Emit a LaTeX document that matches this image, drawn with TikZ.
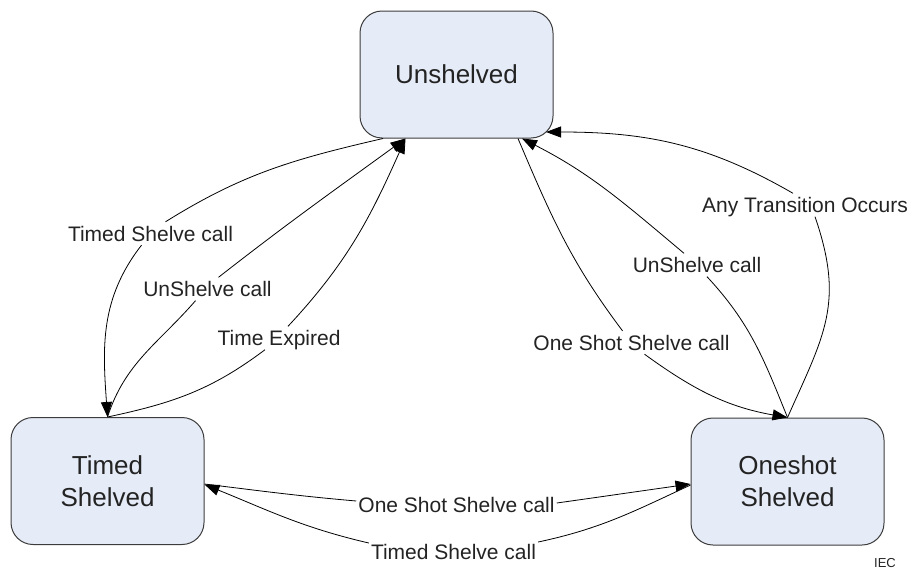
\documentclass[tikz,border=0pt]{standalone}
\usepackage{fontspec}
\setmainfont{Liberation Sans}
\usetikzlibrary{arrows.meta}
\definecolor{boxfill}{RGB}{230,236,247}
\definecolor{boxline}{RGB}{60,60,60}
\definecolor{ink}{RGB}{35,35,35}
\begin{document}
\begin{tikzpicture}[x=1pt,y=-1pt,
  state/.style={draw=boxline, line width=1pt, fill=boxfill, rounded corners=22pt,
    minimum width=193pt, minimum height=127pt, inner sep=0pt, align=center,
    font=\fontsize{26}{32}\selectfont, text=ink},
  lbl/.style={font=\fontsize{21}{25}\selectfont, text=ink, text height=15pt,
    text depth=0pt, inner xsep=2pt, inner ysep=4pt},
  conn/.style={line width=0.8pt, black},
  arr/.style={conn, -{Triangle[length=15pt,width=11pt]}}
]
\useasboundingbox (0,0) rectangle (912,570);

\node[state] (U) at (456.5,74.5) {Unshelved};
\node[state] (T) at (107.5,481) {Timed\\Shelved};
\node[state] (O) at (787.5,481.5) {Oneshot\\Shelved};

\node[lbl] (lA) at (150.5,233.5) {Timed Shelve call};
\node[lbl] (lB) at (207.5,289) {UnShelve call};
\node[lbl] (lC) at (279,338) {Time Expired};
\node[lbl] (lD) at (631.5,342.5) {One Shot Shelve call};
\node[lbl] (lE) at (697,265) {UnShelve call};
\node[lbl] (lF) at (805,205) {Any Transition Occurs};
\node[lbl] (lG) at (456.5,505) {One Shot Shelve call};
\node[lbl] (lH) at (453.5,552) {Timed Shelve call};
\node[font=\fontsize{13}{15}\selectfont, text=ink] (iec) at (885,563) {IEC};

% Unshelved -> Timed Shelved
\draw[conn] ([xshift=-73.5pt]U.south) to[out=193,in=32] ([xshift=15pt]lA.north);
\draw[arr] ([xshift=-9pt]lA.south) to[out=232,in=94] (T.north);
% Timed Shelved -> Unshelved (UnShelve call)
\draw[conn] (T.north) to[out=72,in=229] ([xshift=-12pt]lB.south);
\draw[arr] ([xshift=11pt]lB.north) to[out=38,in=216] ([xshift=-51pt]U.south);
% Timed Shelved -> Unshelved (Time Expired)
\draw[conn] (T.north) to[out=12,in=217] ([xshift=-14pt]lC.south);
\draw[arr] ([xshift=9pt]lC.north) to[out=47,in=246] ([xshift=-51pt]U.south);
% Unshelved -> Oneshot Shelved
\draw[conn] ([xshift=61.5pt]U.south) to[out=293,in=127] ([xshift=-9pt]lD.north);
\draw[arr] ([xshift=13pt]lD.south) to[out=324,in=170] (O.north);
% Oneshot Shelved -> Unshelved (UnShelve call)
\draw[conn] (O.north) to[out=112,in=313] ([xshift=10pt]lE.south);
\draw[arr] ([xshift=-13pt]lE.north) to[out=140,in=333] ([xshift=65.5pt]U.south);
% Oneshot Shelved -> Unshelved (Any Transition Occurs)
\draw[conn] (O.north) to[out=66,in=289,looseness=1.15] ([xshift=10pt]lF.south);
\draw[arr] ([xshift=-12pt]lF.north) to[out=150,in=0] ([shift={(89.5,57.5)}]U.center);
% Timed Shelved -> Oneshot Shelved
\draw[conn] ([shift={(0,3)}]T.east) to[out=353,in=175] ([shift={(0,-4)}]lG.west);
\draw[arr] ([shift={(0,-2)}]lG.east) to[out=8,in=188] ([shift={(0,2.5)}]O.west);
% Oneshot Shelved -> Timed Shelved
\draw[conn] ([shift={(0,3.5)}]O.west) to[out=205,in=12] ([shift={(0,-10)}]lH.east);
\draw[arr] ([shift={(0,-9)}]lH.west) to[out=167,in=338] ([shift={(0,3.5)}]T.east);
\end{tikzpicture}
\end{document}
